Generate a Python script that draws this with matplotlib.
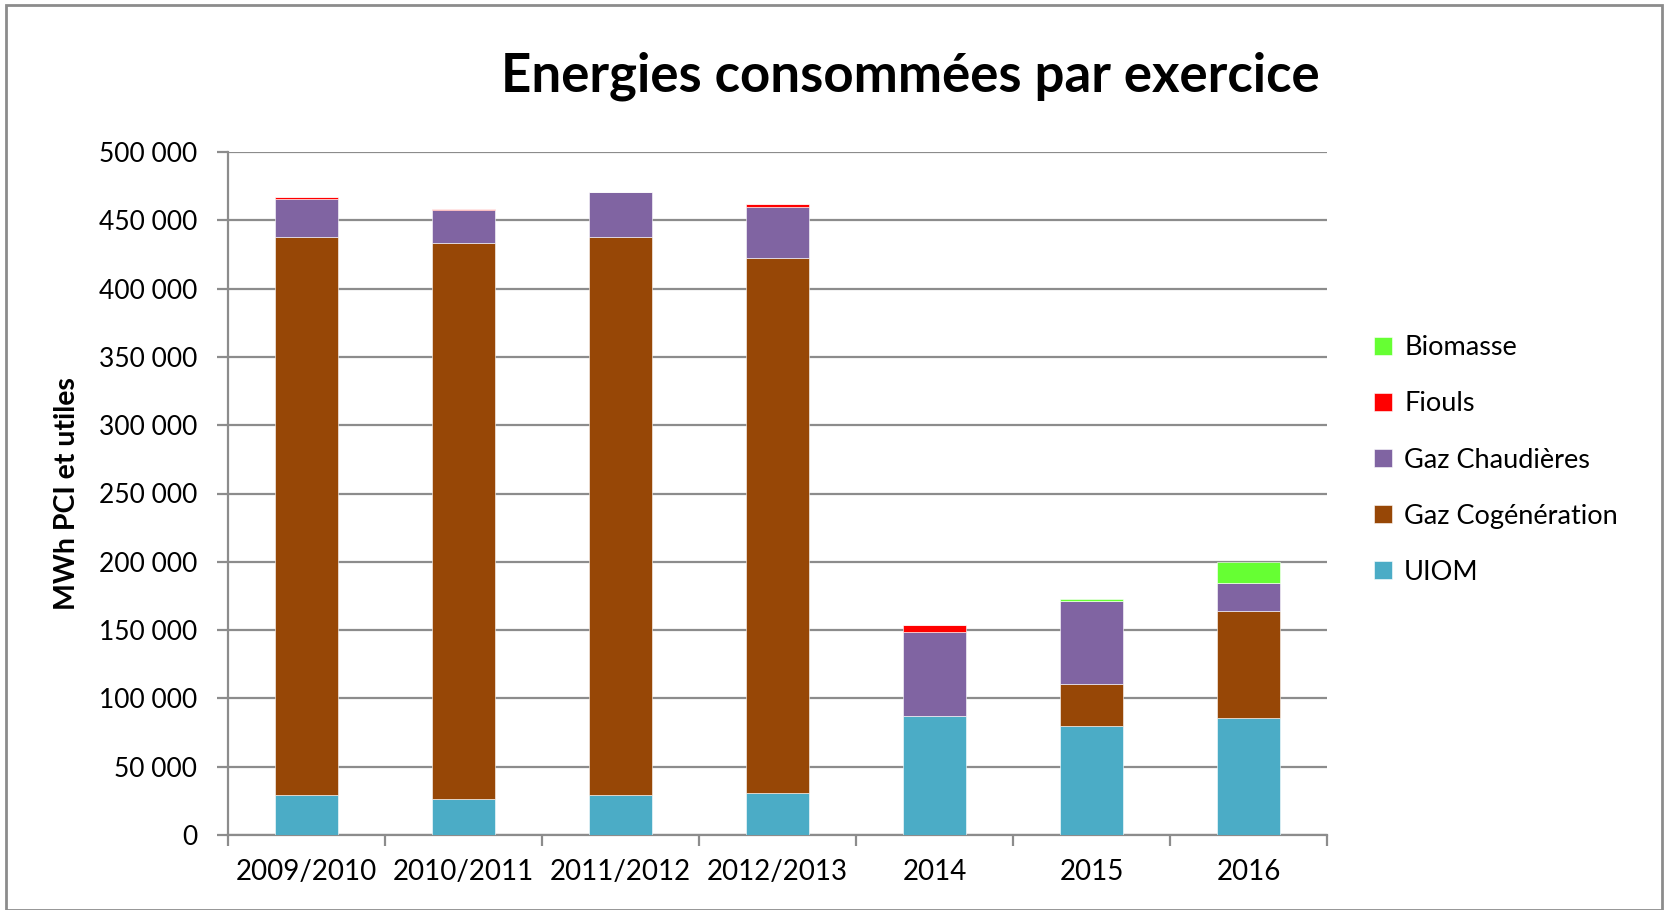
import matplotlib.pyplot as plt
import numpy as np
from matplotlib.ticker import FuncFormatter
from matplotlib.patches import Rectangle

plt.rcParams['font.family'] = ['Lato', 'DejaVu Sans']

years = ['2009/2010', '2010/2011', '2011/2012', '2012/2013', '2014', '2015', '2016']
uiom = [29000, 26600, 29000, 30500, 87300, 79800, 85900]
cogen = [409000, 406500, 408500, 391600, 0, 30500, 78300]
chaud = [27500, 24400, 32900, 37800, 61300, 61200, 20000]
fioul = [1300, 500, 600, 2000, 5100, 0, 0]
biomasse = [0, 0, 0, 0, 0, 1000, 15800]

series = [('UIOM', uiom, '#4BACC6'),
          ('Gaz Cogénération', cogen, '#974706'),
          ('Gaz Chaudières', chaud, '#8064A2'),
          ('Fiouls', fioul, '#FF0000'),
          ('Biomasse', biomasse, '#66FF33')]

fig = plt.figure(figsize=(16.65, 9.1), dpi=100)
ax = fig.add_axes([228 / 1665, 1 - 835 / 910, 1099 / 1665, 683 / 910])

x = np.arange(len(years))
bottom = np.zeros(len(years))
handles = []
for name, vals, col in series:
    b = ax.bar(x, vals, 0.4, bottom=bottom, color=col, label=name,
               edgecolor='white', linewidth=0.4, zorder=3)
    bottom += np.array(vals)
    handles.append(b)

ax.set_xlim(-0.5, len(years) - 0.5)
ax.set_ylim(0, 500000)
ax.set_yticks(np.arange(0, 500001, 50000))
ax.yaxis.set_major_formatter(FuncFormatter(lambda v, p: f'{int(v):,}'.replace(',', ' ')))
ax.yaxis.grid(True, color='#8c8c8c', linewidth=1.6, zorder=0)

# category ticks between groups
ax.set_xticks(np.arange(-0.5, len(years), 1.0))
ax.set_xticklabels([])
ax.set_xticks(x, minor=True)
ax.set_xticklabels(years, minor=True)
ax.tick_params(axis='x', which='major', length=8, width=1.6, color='#8c8c8c', direction='out')
ax.tick_params(axis='x', which='minor', length=0, labelsize=20, pad=17)
ax.tick_params(axis='y', length=8, width=1.6, color='#8c8c8c', labelsize=19, pad=14)

for s in ['top', 'right']:
    ax.spines[s].set_visible(False)
for s in ['left', 'bottom']:
    ax.spines[s].set_color('#8c8c8c')
    ax.spines[s].set_linewidth(1.6)

ax.set_ylabel('MWh PCI et utiles', fontsize=20.5, fontweight='bold', labelpad=14)

fig.text(910 / 1665, 1 - 76 / 910, 'Energies consommées par exercice',
         fontsize=38, fontweight='bold', ha='center', va='center')

leg = fig.legend(handles[::-1], [s[0] for s in series][::-1],
                 loc='center left', bbox_to_anchor=(1350 / 1665, 1 - 460 / 910),
                 frameon=False, fontsize=19.5, handlelength=0.65, handleheight=0.65,
                 handletextpad=0.45, labelspacing=1.15)

fig.patches.append(Rectangle((6 / 1665, 0.0), 1656 / 1665, 1 - 5 / 910,
                             transform=fig.transFigure, fill=False,
                             edgecolor='#8c8c8c', linewidth=2))

fig.savefig('out.png', dpi=100)
